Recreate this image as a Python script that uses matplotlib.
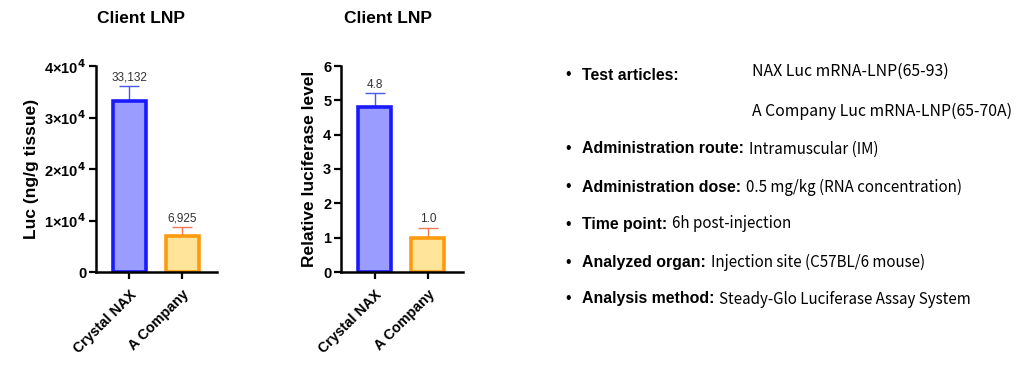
import matplotlib
matplotlib.use('Agg')
import matplotlib.pyplot as plt
from matplotlib.ticker import FixedLocator

plt.rcParams['font.family'] = ['Liberation Sans', 'DejaVu Sans']

groups = ['Crystal NAX', 'A Company']
luc_mean = [33132, 6925]
luc_err = [2900, 1850]
luc_labels = ['33,132', '6,925']
rel_mean = [4.8, 1.0]
rel_err = [0.40, 0.28]
rel_labels = ['4.8', '1.0']

fills = ['#9b9cff', '#ffe49a']
edges = ['#1a1aff', '#ff9a0f']
errcols = ['#4a5ae8', '#f07a55']

info_bold = ['Administration route:', 'Administration dose:', 'Time point:',
             'Analyzed organ:', 'Analysis method:']
info_text = ['Intramuscular (IM)', '0.5 mg/kg (RNA concentration)', '6h post-injection',
             'Injection site (C57BL/6 mouse)', 'Steady-Glo Luciferase Assay System']
test_articles = ['NAX Luc mRNA-LNP(65-93)', 'A Company Luc mRNA-LNP(65-70A)']

fig = plt.figure(figsize=(10.24, 3.76), dpi=100)


def draw_panel(ax, means, errs, labels, ymax, yticks, yticklabels, ylabel, lab_off, title_x):
    x = list(range(len(groups)))
    for i in x:
        ax.bar(i, means[i], width=0.62, color=fills[i], edgecolor=edges[i],
               linewidth=2.6, zorder=2)
        ax.errorbar(i, means[i], yerr=[[0], [errs[i]]], fmt='none',
                    ecolor=errcols[i], elinewidth=1.0, capsize=7, capthick=1.0, zorder=1)
        ax.text(i, means[i] + errs[i] + lab_off, labels[i], ha='center', va='bottom',
                fontsize=8.5, color='#333333')
    ax.set_xlim(-0.63, 1.66)
    ax.set_ylim(0, ymax)
    ax.yaxis.set_major_locator(FixedLocator(yticks))
    ax.set_yticklabels(yticklabels, fontsize=10.5, fontweight='bold')
    ax.set_xticks(x)
    ax.set_xticklabels(groups, rotation=45, ha='right', rotation_mode='anchor',
                       fontsize=10.3, fontweight='bold')
    ax.set_ylabel(ylabel, fontsize=12.5, fontweight='bold', labelpad=4)
    for s in ['top', 'right']:
        ax.spines[s].set_visible(False)
    for s in ['left', 'bottom']:
        ax.spines[s].set_linewidth(1.8)
    ax.tick_params(axis='both', width=1.6, length=5, direction='out')
    ax.tick_params(axis='y', pad=2)
    ax.tick_params(axis='x', pad=6)
    ax.set_title('Client LNP', fontsize=12.5, fontweight='bold', pad=31, x=title_x)


ax1 = fig.add_axes([96 / 1024, 104 / 376, 121 / 1024, 206 / 376])
draw_panel(ax1, luc_mean, luc_err, luc_labels, 40000,
           [0, 10000, 20000, 30000, 40000],
           ['0', r'1×10$^{\mathbf{4}}$', r'2×10$^{\mathbf{4}}$', r'3×10$^{\mathbf{4}}$', r'4×10$^{\mathbf{4}}$'],
           'Luc (ng/g tissue)', 500, 0.37)

ax2 = fig.add_axes([341 / 1024, 104 / 376, 122 / 1024, 206 / 376])
draw_panel(ax2, rel_mean, rel_err, rel_labels, 6,
           [0, 1, 2, 3, 4, 5, 6],
           ['0', '1', '2', '3', '4', '5', '6'],
           'Relative luciferase level', 0.08, 0.385)

# text block on the right
fsb = 11.4
fsr = 10.9
bx = 565 / 1024
tx = 582 / 1024
reg = ['Noto Sans CJK KR', 'DejaVu Sans']

def ypos(py):
    return 1 - py / 376

fig.text(bx, ypos(74), '•', fontsize=fsb, va='center', ha='left')
fig.text(tx, ypos(75), 'Test articles:', fontsize=fsb, fontweight='bold', va='center', ha='left')
fig.text(752 / 1024, ypos(71), test_articles[0], fontsize=11.4, va='center', ha='left', family=reg)
fig.text(752 / 1024, ypos(111), test_articles[1], fontsize=11.4, va='center', ha='left', family=reg)

rows_y = [149, 187, 224, 262, 299]
r = fig.canvas.get_renderer()
for yy, b, t in zip(rows_y, info_bold, info_text):
    fig.text(bx, ypos(yy), '•', fontsize=fsb, va='center', ha='left')
    tb = fig.text(tx, ypos(yy), b, fontsize=fsb, fontweight='bold', va='center', ha='left')
    bb = tb.get_window_extent(renderer=r)
    fig.text((bb.x1 + 5) / 1024, ypos(yy), t, fontsize=fsr, va='center', ha='left', family=reg)

fig.savefig('out.png', dpi=100, facecolor='white')
